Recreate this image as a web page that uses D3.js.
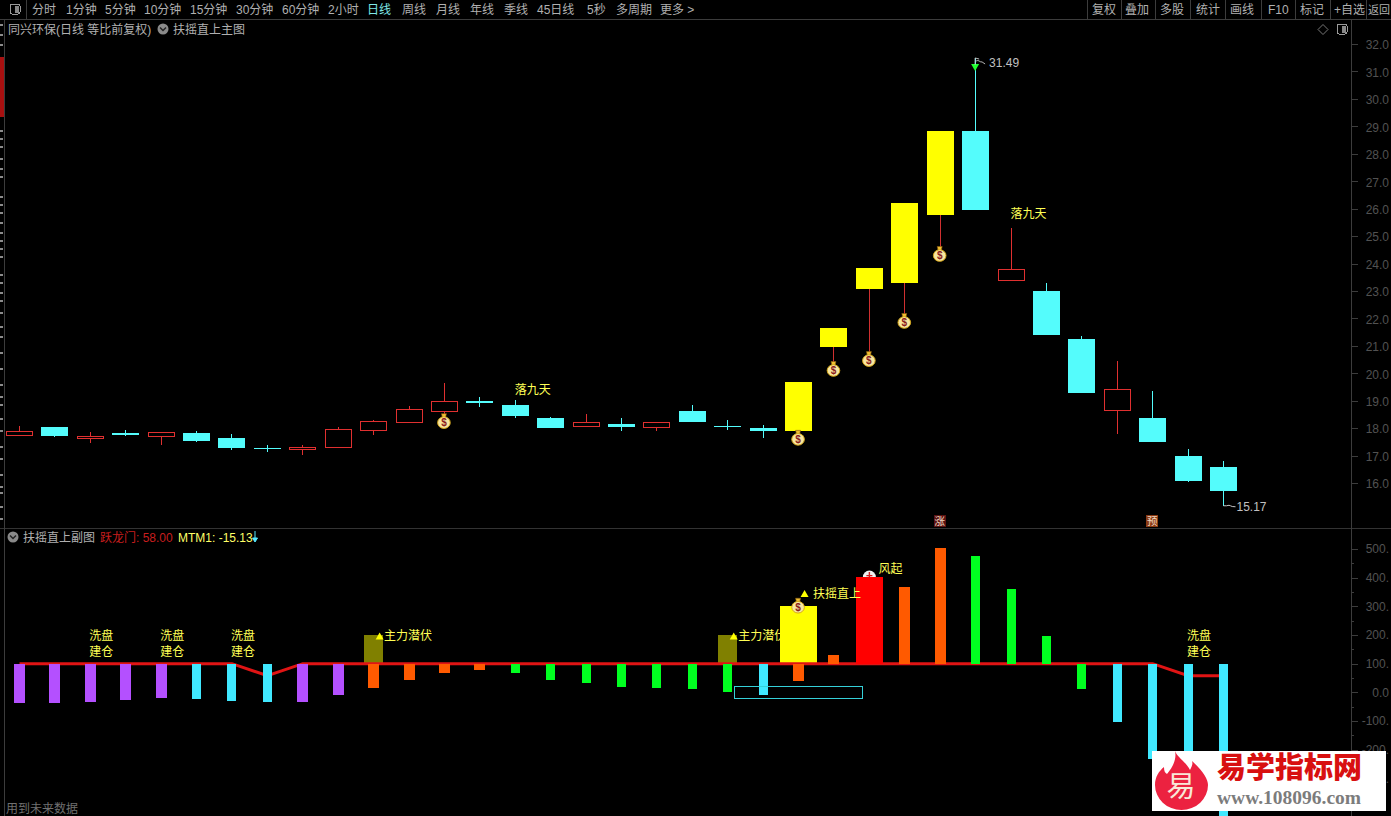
<!DOCTYPE html>
<html><head><meta charset="utf-8">
<script src="https://cdn.jsdelivr.net/npm/d3@7/dist/d3.min.js"></script>
<style>
html,body{margin:0;padding:0;background:#000;overflow:hidden}
svg{display:block}
text{font-family:"Liberation Sans","Noto Sans CJK SC",sans-serif;font-size:12px}
</style></head><body><svg id="c" width="1391" height="816"></svg>
<script>
// ---- data ----
const candleOpen  = [17.76,18.04,17.64,17.82,17.72,17.82,17.64,17.26,17.24,17.29,17.94,18.23,18.60,18.98,18.84,18.37,18.09,18.15,18.02,18.62,18.08,18.00,17.90,20.96,23.07,23.29,25.77,28.83,23.40,23.00,21.25,18.66,18.37,16.98,16.58];
const candleClose = [17.90,17.72,17.71,17.75,17.85,17.53,17.28,17.24,17.31,17.96,18.25,18.69,18.98,18.92,18.45,18.00,18.22,18.04,18.22,18.22,18.05,17.90,19.68,21.65,23.84,26.20,28.83,25.95,23.80,21.39,19.28,19.43,17.49,16.07,15.71];
const candleHigh  = [18.08,18.04,17.86,17.93,17.86,17.90,17.79,17.38,17.38,18.04,18.30,18.81,19.64,19.13,19.02,18.41,18.51,18.37,18.22,18.84,18.30,18.11,19.68,21.65,23.84,26.20,28.83,31.49,25.29,23.29,21.36,20.45,19.35,17.24,16.80];
const candleLow   = [17.76,17.69,17.47,17.71,17.40,17.49,17.20,17.13,17.03,17.29,17.76,18.23,18.51,18.77,18.38,18.00,18.04,17.90,17.90,18.22,17.93,17.64,17.90,20.41,20.77,22.16,24.60,25.95,23.36,21.39,19.28,17.79,17.49,16.04,15.17];
const candleKind  = ["r","c","r","c","r","c","c","c","r","r","r","r","r","c","c","c","r","c","r","c","c","c","y","y","y","y","y","c","r","c","c","r","c","c","c"];
const moneyBagIdx = [12,22,23,24,25,26];
const fallLabelIdx = [14,28];
const fallLabelPrice = [19.43,25.84];
const priceTicks = [32,31,30,29,28,27,26,25,24,23,22,21,20,19,18,17,16];

const mtmValues = [-37,-38,-34,-27,-20,-23,-30,-34,-34,-9,15,43,67,77,66,42,31,17,14,10,0,-9,39,129,402,366,502,474,359,195,10,-103,-232,-290,-430];
const mtmKind   = ["p","p","p","p","p","c","c","c","p","p","o","o","o","o","g","g","g","g","g","g","g","c","o","o","R","o","o","g","g","g","g","c","c","c","c"];
const dragonLine = [100,100,100,100,100,100,100,58,100,100,100,100,100,100,100,100,100,100,100,100,100,100,100,100,100,100,100,100,100,100,100,100,100,58,58];
const oliveIdx = [10,20];
const oliveTop = [200,200];
const yellowIdx = [22];
const yellowTop = [302];
const washIdx = [2,4,6,33];
const mtmTicks = [500,400,300,200,100,0,-100,-200,-300];

const leftTabs = ["分时","1分钟","5分钟","10分钟","15分钟","30分钟","60分钟","2小时","日线","周线","月线","年线","季线","45日线","5秒","多周期","更多 >"];
const leftTabX = [32,66,105,144,190,236,282,328,367,402,436,470,504,537,587,616,660];
const rightTabs = ["复权","叠加","多股","统计","画线","F10","标记","+自选","返回"];
const rightTabX = [1092,1125,1160,1196,1230,1268,1300,1334,1368];
const rightSep = [1087,1121,1155,1190,1225,1261,1295,1330,1366];
const stripMarks = [24,34,44,130,138,146,158,168,176,196,204,212,222,232,240,248,256,274,282,292,300,312,326,336,352,368,384,396,404,418,430,446,458,474,486,492,506,518];

// ---- scales ----
const svg = d3.select("#c");
const n = candleOpen.length;
const x = d3.scalePoint().domain(d3.range(n)).range([19.5,1223.5]);
const yP = d3.scaleLinear().domain([16,32]).range([483,44]);
const yM = d3.scaleLinear().domain([0,500]).range([692.3,549]);

svg.append("rect").attr("width",1391).attr("height",816).attr("fill","#000");

// ---- frame ----
const frame = "#3c3c3c";
const crisp = s => s.attr("shape-rendering","crispEdges");
const hl = (x1,x2,y,c)=>crisp(svg.append("line").attr("x1",x1).attr("x2",x2).attr("y1",y+.5).attr("y2",y+.5).attr("stroke",c||frame));
const vl = (x0,y1,y2,c)=>crisp(svg.append("line").attr("x1",x0+.5).attr("x2",x0+.5).attr("y1",y1).attr("y2",y2).attr("stroke",c||frame));
hl(0,1391,19); hl(0,1391,528,"#333");
vl(4,19,816); vl(1351,19,816); vl(26,0,19);
rightSep.forEach(v=>vl(v,0,19));

// left strip
crisp(svg.append("rect").attr("x",0).attr("y",57).attr("width",4).attr("height",60).attr("fill","#a81010"));
svg.append("g").selectAll("rect").data(stripMarks).join("rect")
  .attr("x",0).attr("y",d=>d).attr("width",3).attr("height",2).attr("fill","#8c8c8c");

// ---- toolbar ----
crisp(svg.append("rect").attr("x",10).attr("y",4).attr("width",10).attr("height",10).attr("rx",2).attr("fill","none").attr("stroke","#9a9a9a"));
crisp(svg.append("rect").attr("x",15).attr("y",6).attr("width",4).attr("height",7).attr("fill","#888"));
svg.append("g").selectAll("text").data(leftTabs).join("text")
  .attr("x",(d,i)=>leftTabX[i]).attr("y",13.5)
  .attr("fill",d=>d==="日线"?"#7fe8e8":"#b0b0b0").text(d=>d);
svg.append("g").selectAll("text").data(rightTabs).join("text")
  .attr("x",(d,i)=>rightTabX[i]).attr("y",13.5).attr("fill","#b0b0b0")
  .style("font-size",d=>d==="返回"?"11px":"12px").text(d=>d);

// ---- titles ----
const chevron = (cx,cy)=>{
  svg.append("circle").attr("cx",cx).attr("cy",cy).attr("r",5.5).attr("fill","#8a8a8a");
  svg.append("path").attr("d",`M${cx-3},${cy-1.5}L${cx},${cy+1.5}L${cx+3},${cy-1.5}`).attr("fill","none").attr("stroke","#222").attr("stroke-width",1.5);
};
svg.append("text").attr("x",8).attr("y",34).attr("fill","#b0b0b0").text("同兴环保(日线 等比前复权)");
chevron(163,29);
svg.append("text").attr("x",173).attr("y",34).attr("fill","#b0b0b0").text("扶摇直上主图");
svg.append("path").attr("d","M1323,24.5L1328,29.5L1323,34.5L1318,29.5Z").attr("fill","none").attr("stroke","#777");
crisp(svg.append("rect").attr("x",1337).attr("y",24).attr("width",10).attr("height",10).attr("rx",2).attr("fill","none").attr("stroke","#9a9a9a"));
crisp(svg.append("rect").attr("x",1342).attr("y",26).attr("width",4).attr("height",7).attr("fill","#888"));

chevron(13,537);
svg.append("text").attr("x",23).attr("y",541.5).attr("fill","#b0b0b0").text("扶摇直上副图");
svg.append("text").attr("x",100).attr("y",541.5).attr("fill","#c81e1e").text("跃龙门: 58.00");
svg.append("text").attr("x",178).attr("y",541.5).attr("fill","#ffff66").text("MTM1: -15.13");
svg.append("path").attr("d","M255,531V540M252.5,538L255,542L257.5,538Z").attr("stroke","#55e8ff").attr("fill","#55e8ff");
svg.append("text").attr("x",6).attr("y",813).attr("fill","#707070").text("用到未来数据");

// ---- axes ----
const axisText = "#525252";
const gP = svg.append("g").attr("transform","translate(1351.5,0)").call(
  d3.axisRight(yP).tickValues(priceTicks).tickSize(6).tickFormat(d3.format(".1f")));
gP.select(".domain").remove();
gP.selectAll("line").attr("stroke",frame).attr("shape-rendering","crispEdges");
gP.selectAll("text").attr("fill",axisText).attr("text-anchor","end").attr("x",37.5).attr("dy","0.4em").style("font-size","12px");

const gM = svg.append("g").attr("transform","translate(1351.5,0)").call(
  d3.axisRight(yM).tickValues(mtmTicks).tickSize(6).tickFormat(d=>d===0?"0.0":d+"."));
gM.select(".domain").remove();
gM.selectAll("line").attr("stroke",frame).attr("shape-rendering","crispEdges");
gM.selectAll("text").attr("fill",axisText).attr("text-anchor","end").attr("x",37.5).attr("dy","0.32em").style("font-size","12px");
svg.append("g").selectAll("line").data(mtmTicks.slice(0,-1).map(d=>d-50)).join("line")
  .attr("x1",1351).attr("x2",1354).attr("y1",d=>Math.round(yM(d))+.5).attr("y2",d=>Math.round(yM(d))+.5)
  .attr("stroke",frame).attr("shape-rendering","crispEdges");

// ---- candles ----
const candleColor = {r:"#e03030",c:"#54fcfc",y:"#ffff00"};
const cW = 27;
const g = svg.append("g");
d3.range(n).forEach(i=>{
  const k = candleKind[i], left = Math.round(x(i)-cW/2), cx = left+cW/2;
  const top = yP(Math.max(candleOpen[i],candleClose[i])), bot = yP(Math.min(candleOpen[i],candleClose[i]));
  const wick = k==="y"?"#d03030":candleColor[k];
  crisp(g.append("line").attr("x1",cx).attr("x2",cx).attr("y1",yP(candleHigh[i])).attr("y2",yP(candleLow[i])).attr("stroke",wick));
  const r = g.append("rect").attr("x",left).attr("width",cW);
  crisp(r);
  if(k==="r"){ r.attr("x",left+.5).attr("y",Math.round(top)+.5).attr("height",Math.max(1,Math.round(bot-top)))
     .attr("width",cW-1).attr("fill","#000").attr("stroke",candleColor.r); }
  else { r.attr("y",Math.round(top)).attr("height",Math.max(1,Math.round(bot-top))).attr("fill",candleColor[k]); }
});

function moneyBag(cx,cy){
  const b = svg.append("g").attr("transform",`translate(${cx},${cy})`);
  b.append("path").attr("d","M-2.5,-7.5L2.5,-7.5L1.5,-3.5L-1.5,-3.5Z").attr("fill","#f0c030").attr("stroke","#8a5a10").attr("stroke-width",.6);
  b.append("ellipse").attr("cx",0).attr("cy",1.5).attr("rx",6.3).attr("ry",5.8).attr("fill","#f7e6a0").attr("stroke","#d8a818");
  b.append("text").attr("x",0).attr("y",5).attr("text-anchor","middle").attr("fill","#8a1c1c").attr("font-weight","bold").style("font-size","10px").text("$");
}
moneyBagIdx.forEach(i=>moneyBag(x(i)-.5,yP(candleLow[i])+7));

fallLabelIdx.forEach((i,j)=>{
  svg.append("text").attr("x",x(i)-.5).attr("y",yP(fallLabelPrice[j])+5).attr("fill","#ffff55").text("落九天");
});

// high / low markers
const hiI = d3.range(n).find(i=>candleHigh[i]===d3.max(candleHigh));
const loI = d3.range(n).find(i=>candleLow[i]===d3.min(candleLow));
const hx = x(hiI)-.5, hy = yP(candleHigh[hiI]), lx = x(loI), ly = yP(candleLow[loI]);
svg.append("path").attr("d",`M${hx-4},${hy+6}L${hx+4},${hy+6}L${hx},${hy+13}Z`).attr("fill","#20ff30");
svg.append("path").attr("d",`M${hx},${hy+7}V${hy}L${hx+4},${hy+1}M${hx+1},${hy+3}q2,-1 3,0 t3,1 l3,2`).attr("fill","none").attr("stroke","#c8c8c8").attr("stroke-width",.9);
svg.append("text").attr("x",hx+14).attr("y",hy+9.5).attr("fill","#c0c0c0").text(d3.format(".2f")(candleHigh[hiI]));
svg.append("path").attr("d",`M${lx},${ly}h3q3,-1 4,0 t5,1`).attr("fill","none").attr("stroke","#c8c8c8");
svg.append("text").attr("x",lx+13).attr("y",ly+5.5).attr("fill","#c0c0c0").text(d3.format(".2f")(candleLow[loI]));

// 涨 / 预 badges
[[26,"涨"],[32,"预"]].forEach(([i,t])=>{
  crisp(svg.append("rect").attr("x",x(i)-6.5).attr("y",515).attr("width",12).attr("height",12).attr("fill",t==="涨"?"#5a1212":"#8a3a12"));
  svg.append("text").attr("x",x(i)-.5).attr("y",525).attr("text-anchor","middle").attr("fill","#f0d8c0").style("font-size","10.5px").text(t);
});

// ---- lower panel ----
const base = 100;
// wind marker sits behind the red bar
const wx = x(24), wy = yM(402);
svg.append("path").attr("d",`M${wx-6.5},${wy}A6.5,6.5 0 0 1 ${wx+6.5},${wy}Z`).attr("fill","#f0f0f0");
svg.append("path").attr("d",`M${wx},${wy-5}V${wy}M${wx-3},${wy-1.5}H${wx+3}`).attr("stroke","#d02020").attr("stroke-width",1.4);
// olive bars
oliveIdx.forEach((i,j)=>{
  crisp(svg.append("rect").attr("x",x(i)-9.5).attr("width",19).attr("y",yM(oliveTop[j])).attr("height",yM(base)-yM(oliveTop[j])).attr("fill","#808000"));
});
const tri = (cx,cy)=>svg.append("path").attr("d",`M${cx-4},${cy+3.5}L${cx+4},${cy+3.5}L${cx},${cy-3.5}Z`).attr("fill","#ffff00");
oliveIdx.forEach((i,j)=>{
  svg.append("text").attr("x",x(i)+10.5).attr("y",yM(oliveTop[j])+5.5).attr("fill","#ffff55").text("主力潜伏");
  tri(x(i)+6,yM(oliveTop[j])+1);
});
// yellow bar
yellowIdx.forEach((i,j)=>{
  crisp(svg.append("rect").attr("x",x(i)-18.5).attr("width",37).attr("y",yM(yellowTop[j])).attr("height",yM(base)-yM(yellowTop[j])).attr("fill","#ffff00"));
});
// dragon line
svg.append("path").datum(dragonLine)
  .attr("d",d3.line().x((d,i)=>x(i)).y(d=>yM(d)))
  .attr("fill","none").attr("stroke","#e01414").attr("stroke-width",3);
// MTM bars
const barColor = {p:"#b450ff",c:"#40e8ff",o:"#ff5a00",g:"#00ff20",R:"#ff0000"};
const barWidth = {p:11,c:9,o:11,g:9,R:27};
const bars = svg.append("g");
mtmValues.forEach((v,i)=>{
  const k = mtmKind[i], w = barWidth[k];
  const a = yM(Math.max(v,base)), b = yM(Math.min(v,base));
  crisp(bars.append("rect").attr("x",Math.round(x(i)-w/2)).attr("width",w).attr("y",a).attr("height",b-a).attr("fill",barColor[k]));
});
// teal box
crisp(svg.append("rect").attr("x",x(20)+7).attr("y",yM(20)).attr("width",128).attr("height",11.5).attr("fill","none").attr("stroke","#35d0d8"));
// annotations
washIdx.forEach(i=>{
  svg.append("text").attr("x",x(i)-1).attr("y",yM(197)+4.5).attr("fill","#ffff55").text("洗盘");
  svg.append("text").attr("x",x(i)-1).attr("y",yM(197)+20).attr("fill","#ffff55").text("建仓");
});
moneyBag(x(22)-.5,yM(302));
tri(x(22)+6,yM(345));
svg.append("text").attr("x",x(22)+14.5).attr("y",yM(345)+5).attr("fill","#ffff55").text("扶摇直上");
svg.append("text").attr("x",wx+9).attr("y",wy-4).attr("fill","#ffff55").text("风起");

// ---- watermark ----
const wm = svg.append("g");
crisp(wm.append("rect").attr("x",1152).attr("y",751).attr("width",234).attr("height",60).attr("fill","#fff"));
wm.append("path").attr("d","M1175,751 C1177,757 1186,762 1190,770 C1192,766 1193,764 1192,761 C1204,772 1208,780 1208,785 A26.5,25 0 0 1 1155,785 C1155,777 1159,771 1164,767 C1164,771 1165,773 1167,774 C1172,768 1177,760 1175,751Z").attr("fill","#ec2240");
wm.append("text").attr("x",1181).attr("y",797).attr("text-anchor","middle").attr("fill","#f8e8d8")
  .style("font-family","'Noto Sans CJK SC'").style("font-size","29px").text("易");
wm.append("text").attr("x",1217).attr("y",778).attr("fill","#d81010").attr("font-weight","900")
  .style("font-family","'Noto Sans CJK SC'").style("font-size","29px").text("易学指标网");
wm.append("text").attr("x",1217).attr("y",804).attr("fill","#7c7c7c").attr("font-weight","bold")
  .style("font-family","'Liberation Serif'").style("font-size","19.5px").text("www.108096.com");
</script></body></html>
